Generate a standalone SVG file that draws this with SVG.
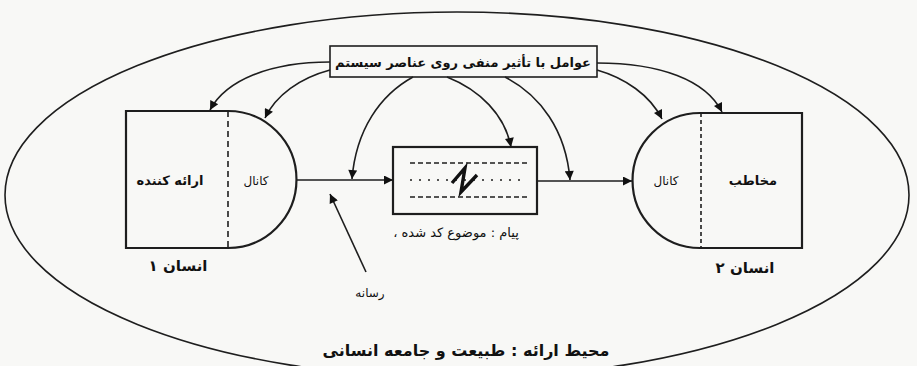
<svg xmlns="http://www.w3.org/2000/svg" width="917" height="366" viewBox="0 0 917 366">
<style>
.ln{fill:none;stroke:#1e1e1e;stroke-width:1.6}
.sh{fill:none;stroke:#1e1e1e;stroke-width:2.2}
.t{font-family:"DejaVu Sans",sans-serif;fill:#111;text-anchor:middle;direction:rtl}
.b{font-weight:bold}
</style>
<defs>
<marker id="ah" viewBox="0 0 10 10" refX="10" refY="5" markerWidth="11" markerHeight="9" markerUnits="userSpaceOnUse" orient="auto">
<path d="M0,0 L10,5 L0,10 z" fill="#111"/>
</marker>
</defs>
<rect width="917" height="366" fill="#f8f8f6"/>
<g id="environment">
<ellipse cx="457" cy="195" rx="452" ry="183" class="ln" stroke-width="1.4"/>
<text class="t b" x="466" y="356" font-size="16">محیط ارائه : طبیعت و جامعه انسانی</text>
</g>
<g id="factors">
<rect x="330" y="46" width="267" height="31" class="ln" fill="#f8f8f6"/>
<text class="t b" x="463" y="67" font-size="13">عوامل با تأثیر منفی روی عناصر سیستم</text>
</g>
<g id="human1">
<path d="M228,111 L126,111 L126,248 L228,248 A68.5,68.5 0 0 0 228,111" class="sh"/>
<line x1="228" y1="111" x2="228" y2="248" class="ln" stroke-dasharray="6 4" stroke-width="2"/>
<text class="t b" x="170" y="185" font-size="13">ارائه کننده</text>
<text class="t" x="256" y="185" font-size="12">کانال</text>
<text class="t b" x="178" y="271" font-size="15">انسان ۱</text>
</g>
<g id="message">
<rect x="393" y="147" width="144" height="67" class="sh" stroke-width="2"/>
<line x1="410" y1="163" x2="530" y2="163" class="ln" stroke-dasharray="5 3" stroke-width="1.3"/>
<line x1="410" y1="180" x2="522" y2="180" class="ln" stroke-dasharray="2 7" stroke-width="1.5"/>
<line x1="410" y1="197" x2="530" y2="197" class="ln" stroke-dasharray="5 3" stroke-width="1.3"/>
<path d="M452,183 L465,168 L461,192 L477,175" fill="none" stroke="#111" stroke-width="3.4" stroke-linejoin="miter"/>
<text class="t" x="456" y="237" font-size="13">پیام : موضوع کد شده ،</text>
</g>
<g id="human2">
<path d="M700,113 L802,113 L802,248 L700,248 A67.5,67.5 0 0 1 700,113" class="sh"/>
<line x1="701" y1="113" x2="701" y2="248" class="ln" stroke-dasharray="4 3" stroke-width="2"/>
<text class="t b" x="753" y="185" font-size="13">مخاطب</text>
<text class="t" x="666" y="185" font-size="12">کانال</text>
<text class="t b" x="745" y="273" font-size="15">انسان ۲</text>
</g>
<g id="medium">
<text class="t" x="370" y="297" font-size="12">رسانه</text>
</g>
<g id="connectors">
<path d="M297,180 L393,180" class="ln" marker-end="url(#ah)"/>
<path d="M537,181 L632,181" class="ln" marker-end="url(#ah)"/>
<path d="M366,272 L330,194" class="ln" marker-end="url(#ah)"/>
<path d="M330,62 C270,62 226,80 210,110" class="ln" marker-end="url(#ah)"/>
<path d="M330,70 C300,78 276,95 265,118" class="ln" marker-end="url(#ah)"/>
<path d="M413,77 C380,95 356,130 352,179" class="ln" marker-end="url(#ah)"/>
<path d="M447,77 C480,90 505,115 511,147" class="ln" marker-end="url(#ah)"/>
<path d="M505,77 C540,95 566,130 570,180" class="ln" marker-end="url(#ah)"/>
<path d="M597,70 C625,78 650,95 662,119" class="ln" marker-end="url(#ah)"/>
<path d="M597,63 C660,63 706,80 722,112" class="ln" marker-end="url(#ah)"/>
</g>
</svg>
